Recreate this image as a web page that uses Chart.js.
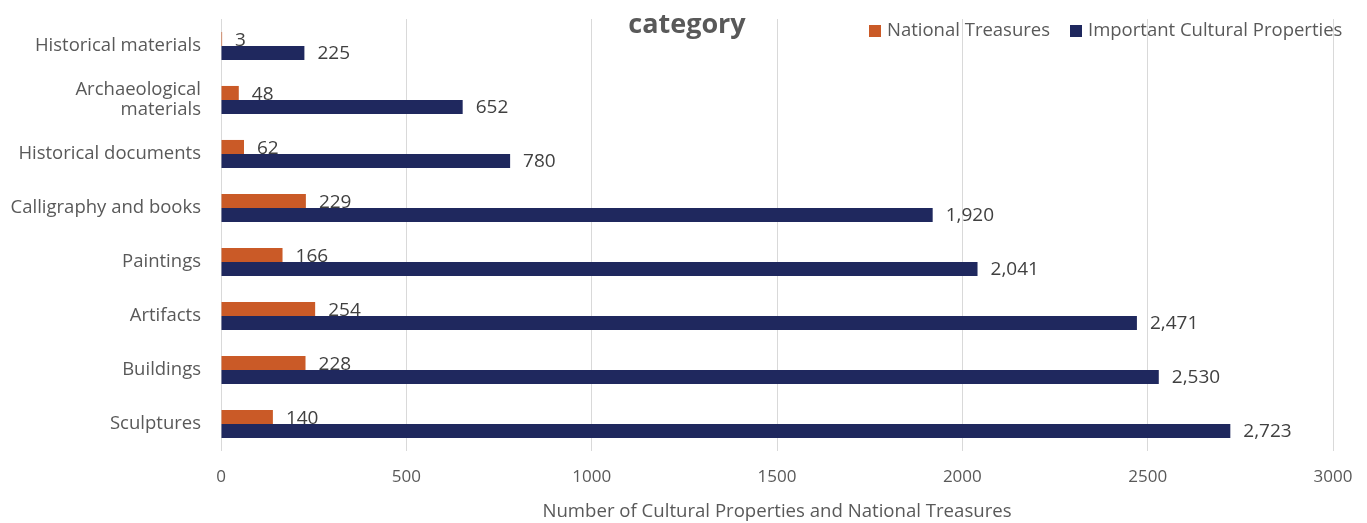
<!DOCTYPE html>
<html>
<head>
<meta charset="utf-8">
<title>category</title>
<script src="https://cdn.jsdelivr.net/npm/chart.js@4.4.1/dist/chart.umd.min.js"></script>
<style>
  html, body { margin: 0; padding: 0; background: #fff; }
  #wrap { width: 1367px; height: 523px; position: relative; }
</style>
</head>
<body>
<div id="wrap"><canvas id="catChart"></canvas></div>
<script>
// Cultural properties by category
const categories = [
    'Historical materials',
    ['Archaeological', 'materials'],
    'Historical documents',
    'Calligraphy and books',
    'Paintings',
    'Artifacts',
    'Buildings',
    'Sculptures'
];
const nationalTreasures = [3, 48, 62, 229, 166, 254, 228, 140];
const importantProps = [225, 652, 780, 1920, 2041, 2471, 2530, 2723];
const xTicks = [0, 500, 1000, 1500, 2000, 2500, 3000];

const ORANGE = '#CA5A27';
const NAVY = '#1F285E';
const FONT = '"Open Sans", sans-serif';

// value labels next to each bar end
const valueLabels = {
    id: 'valueLabels',
    afterDatasetsDraw(chart) {
        const c = chart.ctx;
        c.save();
        c.font = '19px ' + FONT;
        c.fillStyle = '#404040';
        c.textBaseline = 'middle';
        chart.data.datasets.forEach((ds, i) => {
            chart.getDatasetMeta(i).data.forEach((bar, j) => {
                c.fillText(ds.data[j].toLocaleString('en-US'), bar.x + 13, bar.y + (i === 0 ? 2 : 1));
            });
        });
        c.restore();
    }
};

// title and legend sit inside the top of the plot
const header = {
    id: 'header',
    afterDraw(chart) {
        const c = chart.ctx;
        c.save();
        c.fillStyle = '#595959';
        c.font = 'bold 27px ' + FONT;
        c.textAlign = 'center';
        c.textBaseline = 'alphabetic';
        c.fillText('category', 687, 33);

        c.font = '18.5px ' + FONT;
        c.textAlign = 'left';
        c.textBaseline = 'middle';
        const items = [
            { text: 'National Treasures', color: ORANGE, x: 869 },
            { text: 'Important Cultural Properties', color: NAVY, x: 1070 }
        ];
        items.forEach(it => {
            c.fillStyle = it.color;
            c.fillRect(it.x, 25, 12, 12);
            c.fillStyle = '#595959';
            c.fillText(it.text, it.x + 18, 31);
        });
        c.restore();
    }
};

new Chart(document.getElementById('catChart'), {
    type: 'bar',
    data: {
        labels: categories,
        datasets: [{
            label: 'National Treasures',
            data: nationalTreasures,
            backgroundColor: ORANGE,
            barPercentage: 1,
            categoryPercentage: 0.52
        }, {
            label: 'Important Cultural Properties',
            data: importantProps,
            backgroundColor: NAVY,
            barPercentage: 1,
            categoryPercentage: 0.52
        }]
    },
    options: {
        indexAxis: 'y',
        responsive: true,
        maintainAspectRatio: false,
        animation: false,
        layout: { padding: { top: 19, right: 34, left: 0, bottom: 0 } },
        plugins: {
            legend: { display: false },
            title: { display: false },
            tooltip: { enabled: false }
        },
        scales: {
            x: {
                min: 0,
                max: 3000,
                afterFit: s => {
                    s.height = 72;
                    s.paddingLeft = 0;
                    s.paddingRight = 0;
                },
                afterBuildTicks: s => { s.ticks = xTicks.map(v => ({ value: v })); },
                grid: { color: '#D9D9D9', drawTicks: false },
                border: { display: false },
                ticks: {
                    color: '#595959',
                    font: { family: FONT, size: 17 },
                    padding: 16,
                    callback: v => String(v)
                },
                title: {
                    display: true,
                    text: 'Number of Cultural Properties and National Treasures',
                    color: '#595959',
                    font: { family: FONT, size: 18.6 },
                    padding: { top: 4, bottom: 0 }
                }
            },
            y: {
                afterFit: s => {
                    s.width = 221;
                    s.paddingTop = 0;
                    s.paddingBottom = 0;
                },
                grid: { display: false },
                border: { display: false },
                ticks: {
                    color: '#595959',
                    font: { family: FONT, size: 18.5, lineHeight: 1.1 },
                    padding: 12
                }
            }
        }
    },
    plugins: [valueLabels, header]
});
</script>
</body>
</html>
